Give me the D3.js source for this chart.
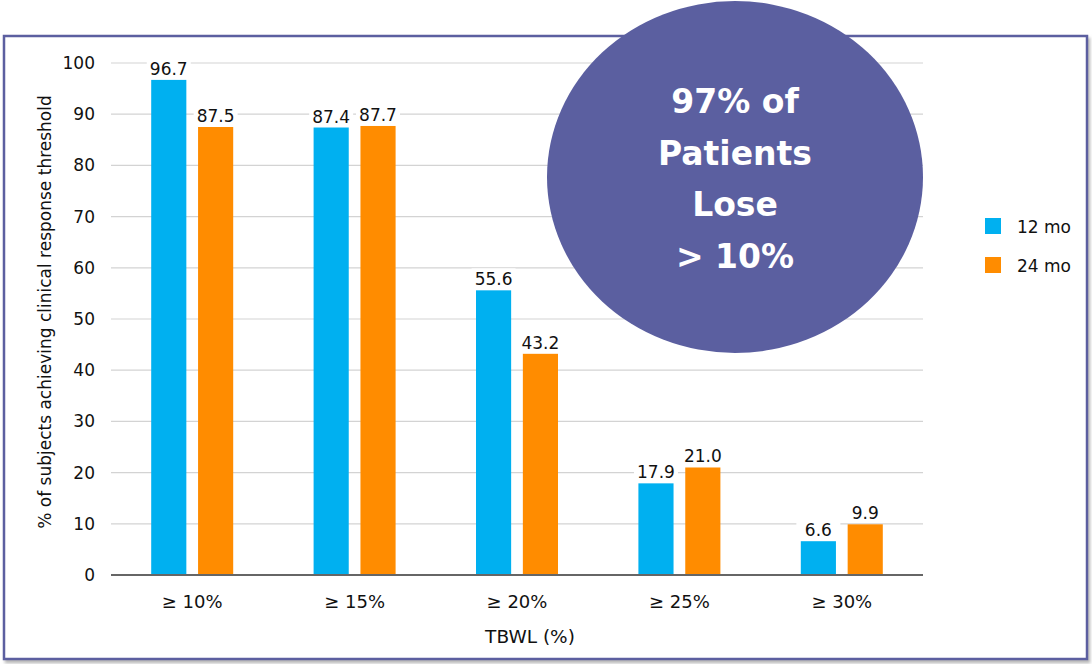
<!DOCTYPE html>
<html>
<head>
<meta charset="utf-8">
<script src="https://cdn.jsdelivr.net/npm/d3@7"></script>
<style>
  body { margin: 0; background: #fff; }
</style>
</head>
<body>
<svg id="svgcanvas" width="1092" height="664" font-family="'DejaVu Sans', Verdana, sans-serif"></svg>
<script>
// chart data
var categories = ["\u2265 10%", "\u2265 15%", "\u2265 20%", "\u2265 25%", "\u2265 30%"];
var seriesNames = ["12 mo", "24 mo"];
var values12 = [96.7, 87.4, 55.6, 17.9, 6.6];
var values24 = [87.5, 87.7, 43.2, 21.0, 9.9];
var yTicks = [0, 10, 20, 30, 40, 50, 60, 70, 80, 90, 100];
var colors = ["#00b0f0", "#ff8c00"];
var calloutLines = ["97% of", "Patients", "Lose", "> 10%"];

var svg = d3.select("#svgcanvas");

// frame with a soft shadow
var defs = svg.append("defs");
var f = defs.append("filter").attr("id", "shadow")
  .attr("x", "-5%").attr("y", "-5%").attr("width", "110%").attr("height", "110%");
f.append("feDropShadow").attr("dx", 2).attr("dy", 3).attr("stdDeviation", 1.5)
  .attr("flood-color", "#888").attr("flood-opacity", 0.6);

svg.append("rect")
  .attr("x", 4).attr("y", 36).attr("width", 1083).attr("height", 623)
  .attr("fill", "#fff").attr("stroke", "#5b5fa0").attr("stroke-width", 2.5)
  .attr("filter", "url(#shadow)");

var plotLeft = 111, plotRight = 923, plotTop = 63, plotBottom = 575;

var x0 = d3.scaleBand().domain(categories).range([plotLeft, plotRight]).padding(0);
var x1 = d3.scaleBand().domain(seriesNames).range([0, x0.bandwidth()])
  .paddingInner(0.25).paddingOuter(0.858);
var y = d3.scaleLinear().domain([0, 100]).range([plotBottom, plotTop]);

// gridlines
svg.append("g").attr("id", "g_grid")
  .selectAll("line").data(yTicks.slice(1)).enter().append("line")
  .attr("x1", plotLeft).attr("x2", plotRight)
  .attr("y1", function(d) { return y(d); })
  .attr("y2", function(d) { return y(d); })
  .attr("stroke", "#d3d3d3").attr("stroke-width", 1.2);

// y axis labels
var yAxis = d3.axisLeft(y).tickValues(yTicks).tickSize(0).tickPadding(16);
var gy = svg.append("g").attr("transform", "translate(" + plotLeft + ",0)").call(yAxis);
gy.select(".domain").remove();
gy.selectAll("text").attr("font-size", 17).attr("fill", "#111")
  .attr("font-family", "'DejaVu Sans', Verdana, sans-serif");

// x axis labels
var xAxis = d3.axisBottom(x0).tickSize(0).tickPadding(20);
var gx = svg.append("g").attr("transform", "translate(0," + plotBottom + ")").call(xAxis);
gx.select(".domain").remove();
gx.selectAll("text").attr("font-size", 18).attr("fill", "#111")
  .attr("font-family", "'DejaVu Sans', Verdana, sans-serif");

// bars
var rows = categories.map(function(c, i) {
  return { cat: c, vals: [values12[i], values24[i]] };
});

var groups = svg.append("g").attr("id", "g_rects")
  .selectAll("g").data(rows).enter().append("g")
  .attr("transform", function(d) { return "translate(" + x0(d.cat) + ",0)"; });

var cells = groups.selectAll("g").data(function(d) {
  return d.vals.map(function(v, j) { return { s: seriesNames[j], v: v, j: j }; });
}).enter().append("g");

cells.append("rect")
  .attr("x", function(d) { return x1(d.s); })
  .attr("y", function(d) { return y(d.v); })
  .attr("width", x1.bandwidth())
  .attr("height", function(d) { return plotBottom - y(d.v); })
  .attr("fill", function(d) { return colors[d.j]; });

// value labels with white backing
cells.append("rect")
  .attr("x", function(d) { return x1(d.s) + x1.bandwidth() / 2 - 22; })
  .attr("y", function(d) { return y(d.v) - 22; })
  .attr("width", 44).attr("height", 19)
  .attr("fill", "#fff");

cells.append("text")
  .attr("x", function(d) { return x1(d.s) + x1.bandwidth() / 2; })
  .attr("y", function(d) { return y(d.v) - 5; })
  .attr("text-anchor", "middle")
  .attr("font-size", 17).attr("fill", "#111")
  .text(function(d) { return d.v.toFixed(1); });

// baseline
svg.append("line")
  .attr("x1", plotLeft).attr("x2", plotRight)
  .attr("y1", plotBottom).attr("y2", plotBottom)
  .attr("stroke", "#666").attr("stroke-width", 2);

// axis titles
svg.append("text")
  .attr("transform", "translate(51,312) rotate(-90)")
  .attr("text-anchor", "middle").attr("font-size", 17).attr("fill", "#111")
  .text("% of subjects achieving clinical response threshold");

svg.append("text")
  .attr("x", 530).attr("y", 643)
  .attr("text-anchor", "middle").attr("font-size", 18.5).attr("fill", "#111")
  .text("TBWL (%)");

// legend
var legend = svg.append("g").attr("id", "g_legend")
  .selectAll("g").data(seriesNames).enter().append("g")
  .attr("transform", function(d, i) { return "translate(985," + (218 + i * 39) + ")"; });
legend.append("rect").attr("width", 16).attr("height", 16)
  .attr("fill", function(d, i) { return colors[i]; });
legend.append("text").attr("x", 32).attr("y", 15)
  .attr("font-size", 17).attr("fill", "#111")
  .text(function(d) { return d; });

// callout bubble
svg.append("ellipse")
  .attr("cx", 735).attr("cy", 177).attr("rx", 188).attr("ry", 176)
  .attr("fill", "#5b5fa0");

svg.append("g").attr("id", "g_text")
  .selectAll("text").data(calloutLines).enter().append("text")
  .attr("x", 735)
  .attr("y", function(d, i) { return 113 + i * 51.5; })
  .attr("text-anchor", "middle")
  .attr("font-weight", "bold").attr("font-size", 33).attr("fill", "#fff")
  .text(function(d) { return d; });
</script>
</body>
</html>
